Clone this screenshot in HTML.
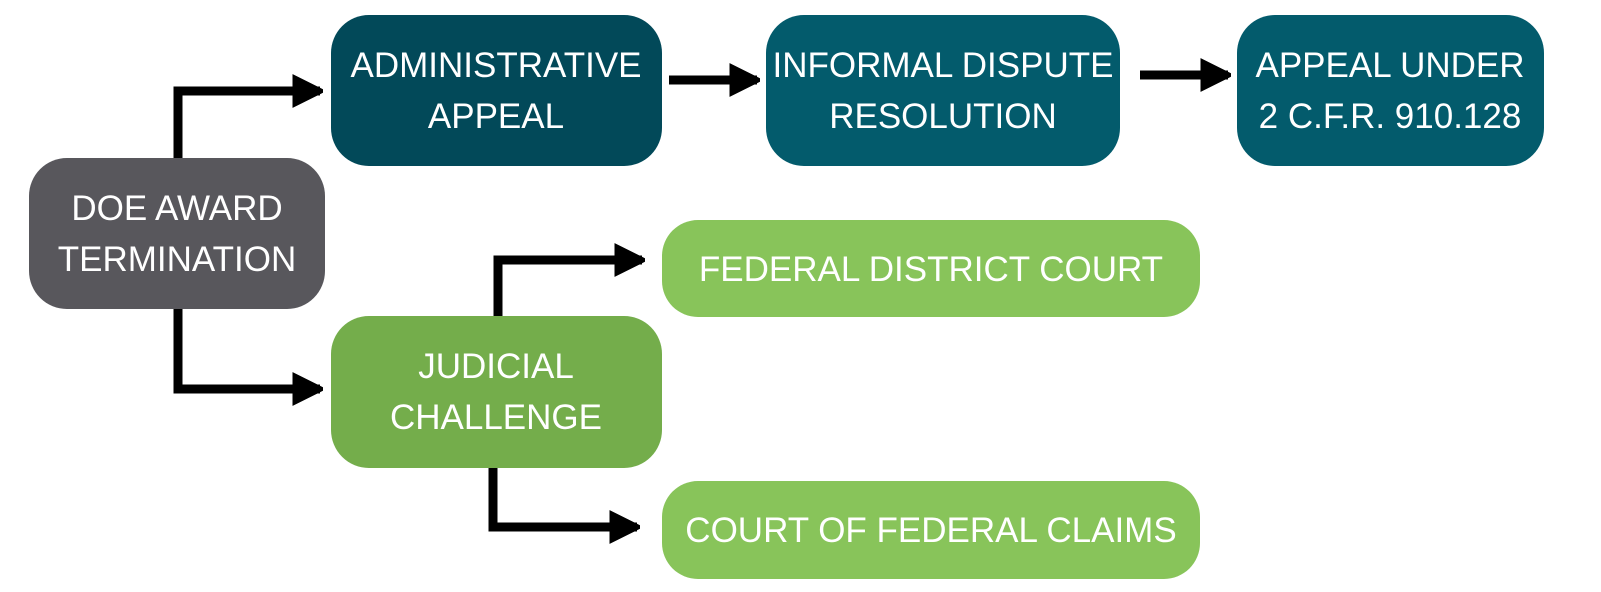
<!DOCTYPE html>
<html><head><style>
body{margin:0;background:#fff;}
svg{display:block;}
text{font-family:"Liberation Sans",sans-serif;fill:#fff;font-size:35px;text-anchor:middle;}
</style></head><body>
<svg width="1601" height="592" viewBox="0 0 1601 592">
<defs>
<marker id="a" viewBox="0 0 10 10" refX="9" refY="5" markerWidth="3.4" markerHeight="3.8" orient="auto" markerUnits="strokeWidth">
<path d="M0,0 L10,5 L0,10 Z" fill="#000" stroke="#000" stroke-linejoin="round"/>
</marker>
</defs>
<g fill="none" stroke="#000" stroke-width="9" stroke-linejoin="miter">
<polyline points="178,158 178,91 320,91" marker-end="url(#a)"/>
<polyline points="178,309 178,389 320,389" marker-end="url(#a)"/>
<polyline points="669,80 757,80" marker-end="url(#a)"/>
<polyline points="1140,75 1228,75" marker-end="url(#a)"/>
<polyline points="498,316 498,260 642,260" marker-end="url(#a)"/>
<polyline points="493,468 493,527 637,527" marker-end="url(#a)"/>
</g>
<rect x="29" y="158" width="296" height="151" rx="38" fill="#58575c"/>
<rect x="331" y="15" width="331" height="151" rx="38" fill="#024959"/>
<rect x="766" y="15" width="354" height="151" rx="38" fill="#035b6c"/>
<rect x="1237" y="15" width="307" height="151" rx="38" fill="#035b6c"/>
<rect x="331" y="316" width="331" height="152" rx="38" fill="#74ad4b"/>
<rect x="662" y="220" width="538" height="97" rx="36" fill="#88c45a"/>
<rect x="662" y="481" width="538" height="98" rx="36" fill="#88c45a"/>
<text x="177" y="220">DOE AWARD</text>
<text x="177" y="271">TERMINATION</text>
<text x="496" y="77">ADMINISTRATIVE</text>
<text x="496" y="128">APPEAL</text>
<text x="943" y="77">INFORMAL DISPUTE</text>
<text x="943" y="128">RESOLUTION</text>
<text x="1390" y="77">APPEAL UNDER</text>
<text x="1390" y="128">2 C.F.R. 910.128</text>
<text x="496" y="378">JUDICIAL</text>
<text x="496" y="429">CHALLENGE</text>
<text x="931" y="281">FEDERAL DISTRICT COURT</text>
<text x="931" y="542">COURT OF FEDERAL CLAIMS</text>
</svg>
</body></html>
